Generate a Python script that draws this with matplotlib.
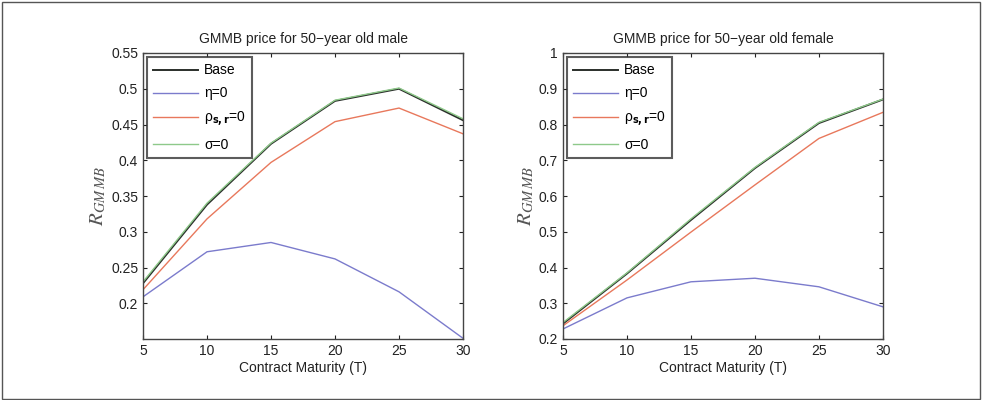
import matplotlib
matplotlib.use('Agg')
import matplotlib.pyplot as plt
from matplotlib.patches import Rectangle

plt.rcParams['font.family'] = ['Liberation Sans', 'DejaVu Sans']

maturity = [5, 10, 15, 20, 25, 30]

# 50-year old male
male_base = [0.228, 0.338, 0.423, 0.483, 0.500, 0.456]
male_eta0 = [0.209, 0.272, 0.285, 0.262, 0.216, 0.151]
male_rho0 = [0.219, 0.318, 0.397, 0.454, 0.473, 0.437]
male_sigma0 = [0.230, 0.340, 0.424, 0.484, 0.501, 0.458]

# 50-year old female
female_base = [0.243, 0.383, 0.533, 0.678, 0.804, 0.870]
female_eta0 = [0.228, 0.315, 0.360, 0.370, 0.346, 0.290]
female_rho0 = [0.237, 0.365, 0.499, 0.631, 0.761, 0.834]
female_sigma0 = [0.246, 0.385, 0.536, 0.680, 0.806, 0.871]

labels = ['Base', '\u03b7=0', r'$\mathregular{\rho_{\mathbf{s,r}}}$=0', '\u03c3=0']
colors = ['#2a2f2a', '#7b7bcc', '#e8785c', '#8ec98a']
widths = [1.4, 1.0, 1.0, 1.0]

fig = plt.figure(figsize=(9.83, 4.0), dpi=100)
fig.patches.append(Rectangle((0.002, 0.003), 0.995, 0.992, transform=fig.transFigure,
                             fill=False, edgecolor='#555555', linewidth=1.0))

panels = [
    ([0.1455, 0.1525, 0.3255, 0.715], 'GMMB price for 50\u2212year old male',
     [male_base, male_eta0, male_rho0, male_sigma0], (0.15, 0.55),
     [0.2, 0.25, 0.3, 0.35, 0.4, 0.45, 0.5, 0.55]),
    ([0.5727, 0.1525, 0.3255, 0.715], 'GMMB price for 50\u2212year old female',
     [female_base, female_eta0, female_rho0, female_sigma0], (0.2, 1.0),
     [0.2, 0.3, 0.4, 0.5, 0.6, 0.7, 0.8, 0.9, 1.0]),
]

for rect, title, series, ylim, yticks in panels:
    ax = fig.add_axes(rect)
    for vals, lab, col, lw in zip(series, labels, colors, widths):
        ax.plot(maturity, vals, color=col, linewidth=lw, label=lab)
    ax.set_xlim(5, 30)
    ax.set_ylim(*ylim)
    ax.set_xticks(maturity)
    ax.set_yticks(yticks)
    ax.set_yticklabels([('%g' % t) for t in yticks])
    ax.tick_params(direction='in', length=3, top=True, right=True, labelsize=10,
                   colors='#222222', width=0.8)
    for sp in ax.spines.values():
        sp.set_color('#444444')
        sp.set_linewidth(1.0)
    ax.set_title(title, fontsize=10, color='#222222', pad=7)
    ax.set_xlabel('Contract Maturity (T)', fontsize=10, color='#222222', labelpad=2)
    ax.set_ylabel(r'$R_{GM\,MB}$', fontsize=15, color='#555555', math_fontfamily='stix',
                  labelpad=2)
    leg = ax.legend(loc='upper left', fontsize=10, handlelength=3.2, fancybox=False,
                    borderaxespad=0.3, labelspacing=0.65, handletextpad=0.45,
                    borderpad=0.45)
    leg.get_frame().set_edgecolor('#333333')
    leg.get_frame().set_linewidth(1.5)

fig.savefig('out.png', dpi=100)
